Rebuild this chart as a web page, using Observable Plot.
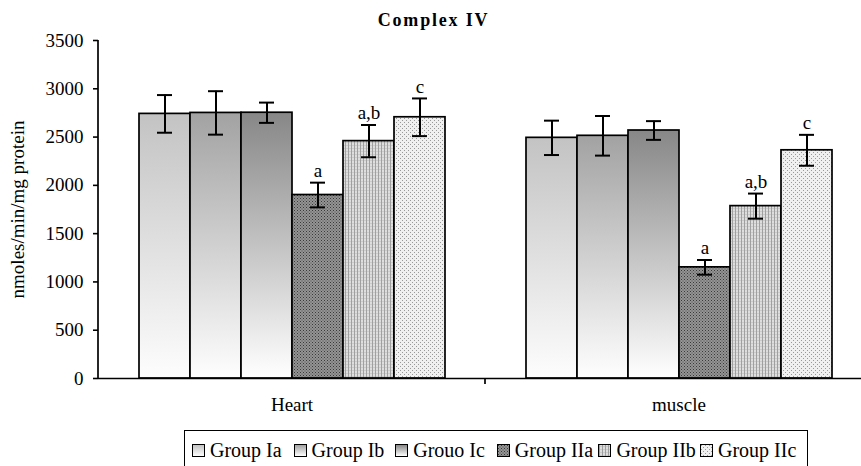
<!DOCTYPE html>
<html><head><meta charset="utf-8">
<script src="https://cdn.jsdelivr.net/npm/d3@7"></script>
<script src="https://cdn.jsdelivr.net/npm/@observablehq/plot@0.6"></script>
<style>
html,body{margin:0;padding:0;background:#fff;overflow:hidden;width:861px;height:466px;}
body{font-family:"Liberation Serif","Times New Roman",serif;color:#000;position:relative;}
#title{height:30px;line-height:40px;text-align:center;font-weight:bold;font-size:18px;letter-spacing:1.8px;padding-left:6px;}
#legend{position:absolute;left:184px;top:430px;width:624px;height:40px;border:1.5px solid #000;box-sizing:border-box;display:flex;align-items:center;padding-left:7px;}
.item{width:101.6px;display:flex;align-items:center;font-size:20px;white-space:nowrap;}
.sw{width:11px;height:11px;border:1px solid #000;margin-right:5px;flex:none;}
.sw svg{display:block;}
</style></head>
<body>
<svg width="0" height="0" style="position:absolute">
<defs>
<linearGradient id="gIa" x1="0" y1="0" x2="0" y2="1"><stop offset="0" stop-color="#c3c3c3"/><stop offset="1" stop-color="#fdfdfd"/></linearGradient>
<linearGradient id="gIb" x1="0" y1="0" x2="0" y2="1"><stop offset="0" stop-color="#a2a2a2"/><stop offset="1" stop-color="#fefefe"/></linearGradient>
<linearGradient id="gIc" x1="0" y1="0" x2="0" y2="1"><stop offset="0" stop-color="#878787"/><stop offset="1" stop-color="#ffffff"/></linearGradient>
<pattern id="pIIa" width="3" height="3" patternUnits="userSpaceOnUse"><rect width="3" height="3" fill="#949494"/><rect x="0" y="0" width="1" height="1" fill="#3a3a3a"/><rect x="1.5" y="1.5" width="1" height="1" fill="#4c4c4c"/></pattern>
<pattern id="pIIb" width="3" height="3" patternUnits="userSpaceOnUse"><rect width="3" height="3" fill="#dedede"/><rect x="0" y="0" width="1" height="3" fill="#a0a0a0"/><rect x="1.5" y="1" width="1" height="1" fill="#b8b8b8"/></pattern>
<pattern id="pIIc" width="4" height="4" patternUnits="userSpaceOnUse"><rect width="4" height="4" fill="#f0f0f0"/><rect x="0" y="0" width="1" height="1" fill="#999"/><rect x="2" y="2" width="1" height="1" fill="#999"/></pattern>
</defs>
</svg>
<div id="title">Complex IV</div>
<div id="chart"></div>
<div id="legend"></div>
<script>
const tissues = ["Heart", "muscle"];
const groups = ["Group Ia", "Group Ib", "Grouo Ic", "Group IIa", "Group IIb", "Group IIc"];
const heartMean = [2740, 2750, 2752, 1900, 2458, 2705];
const heartErr = [195, 225, 105, 128, 167, 195];
const muscleMean = [2492, 2513, 2568, 1151, 1785, 2363];
const muscleErr = [178, 205, 97, 76, 130, 160];
const heartSig = ["", "", "", "a", "a,b", "c"];
const muscleSig = ["", "", "", "a", "a,b", "c"];
const yTicks = [0, 500, 1000, 1500, 2000, 2500, 3000, 3500];
const fills = ["url(#gIa)", "url(#gIb)", "url(#gIc)", "url(#pIIa)", "url(#pIIb)", "url(#pIIc)"];

const data = [];
tissues.forEach((t, ti) => {
  const m = ti === 0 ? heartMean : muscleMean;
  const e = ti === 0 ? heartErr : muscleErr;
  const s = ti === 0 ? heartSig : muscleSig;
  groups.forEach((g, gi) => data.push({tissue: t, group: g, value: m[gi], lo: m[gi] - e[gi], hi: m[gi] + e[gi], sig: s[gi]}));
});

const plot = Plot.plot({
  width: 861,
  height: 390,
  marginLeft: 98,
  marginRight: -11,
  marginTop: 10,
  marginBottom: 42,
  style: {fontFamily: "'Liberation Serif', 'Times New Roman', serif", fontSize: "19px", color: "#000", background: "#fff"},
  fx: {domain: tissues, padding: 0, label: null, tickSize: 0, tickPadding: 19},
  x: {domain: groups, paddingInner: 0, paddingOuter: 0.757, axis: null},
  y: {domain: [0, 3500], ticks: yTicks, tickSize: 5, tickPadding: 10, tickFormat: d => String(d),
      label: "nmoles/min/mg protein", labelAnchor: "center", labelOffset: 88, labelArrow: "none"},
  color: {type: "ordinal", domain: groups, range: fills},
  marks: [
    Plot.barY(data, {fx: "tissue", x: "group", y: "value", fill: "group", stroke: "#000", strokeWidth: 1.7}),
    Plot.ruleX(data, {fx: "tissue", x: "group", y1: "lo", y2: "hi", stroke: "#000", strokeWidth: 2}),
    Plot.tickY(data, {fx: "tissue", x: "group", y: "hi", stroke: "#000", strokeWidth: 2, insetLeft: 18, insetRight: 18}),
    Plot.tickY(data, {fx: "tissue", x: "group", y: "lo", stroke: "#000", strokeWidth: 2, insetLeft: 18, insetRight: 18}),
    Plot.text(data.filter(d => d.sig), {fx: "tissue", x: "group", y: "hi", text: "sig", dy: -12, fontSize: 19, fill: "#000"}),
    Plot.ruleY([0], {stroke: "#000", strokeWidth: 1.7})
  ]
});

// axis line and category separator tick derived from the plot's scales
const fx = plot.scale("fx"), y = plot.scale("y");
const svg = d3.select(plot);
const x0 = fx.apply(tissues[0]);
svg.append("line").attr("x1", x0).attr("x2", x0).attr("y1", y.apply(0)).attr("y2", y.apply(3500))
  .attr("stroke", "#000").attr("stroke-width", 1.7);
const x1 = fx.apply(tissues[1]);
svg.append("line").attr("x1", x1).attr("x2", x1).attr("y1", y.apply(0)).attr("y2", y.apply(0) + 6)
  .attr("stroke", "#000").attr("stroke-width", 1.7);
svg.selectAll("[aria-label='y-axis tick']").attr("stroke-width", 1.6);
document.getElementById("chart").appendChild(plot);

const legend = document.getElementById("legend");
groups.forEach((g, i) => {
  const it = document.createElement("div");
  it.className = "item";
  it.innerHTML = `<span class="sw"><svg width="11" height="11"><rect width="11" height="11" fill="${fills[i]}"/></svg></span><span>${g}</span>`;
  legend.appendChild(it);
});
</script>
</body></html>
